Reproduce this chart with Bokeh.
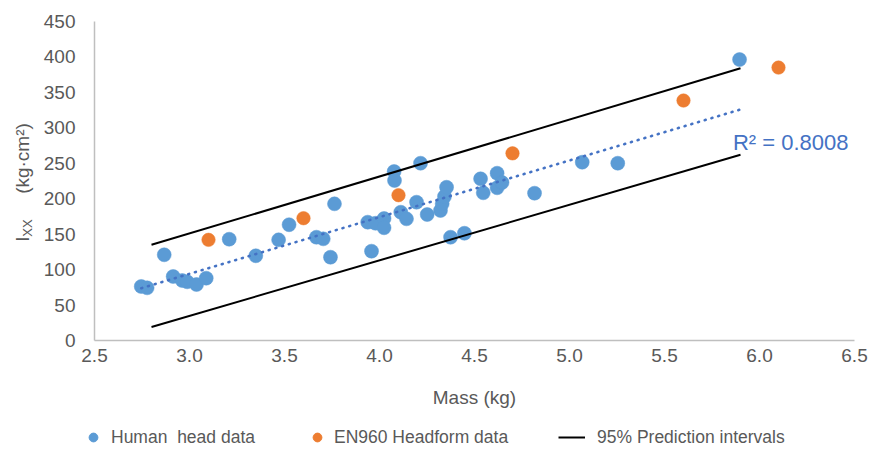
import numpy as np
from bokeh.plotting import figure
from bokeh.layouts import column, row
from bokeh.models import Range1d, FixedTicker, PrintfTickFormatter, Label, Legend, LegendItem
from bokeh.embed import file_html
from bokeh.resources import INLINE

# ---- data ----
human_mass = [2.746, 2.777, 2.867, 2.914, 2.962, 2.988, 3.037, 3.088, 3.209, 3.349,
              3.469, 3.524, 3.668, 3.704, 3.742, 3.763, 3.958, 3.938, 3.979, 4.024,
              4.024, 4.077, 4.079, 4.112, 4.142, 4.195, 4.251, 4.216, 4.321, 4.330,
              4.342, 4.353, 4.374, 4.447, 4.532, 4.546, 4.619, 4.619, 4.645, 4.816,
              5.067, 5.254, 5.895]
human_ixx = [76.2, 74.3, 120.9, 90.3, 84.6, 82.8, 79.0, 87.9, 142.9, 119.5,
             142.0, 163.3, 145.7, 143.4, 117.5, 192.8, 126.0, 166.9, 165.4, 172.1,
             159.0, 238.4, 225.7, 181.0, 171.6, 195.1, 177.7, 250.1, 183.4, 192.8,
             203.1, 216.2, 145.7, 151.3, 228.1, 208.3, 236.0, 215.4, 222.8, 207.8,
             251.5, 250.1, 396.3]
en960_mass = [3.1, 3.6, 4.1, 4.7, 5.6, 6.1]
en960_ixx = [142.0, 172.5, 205.0, 264.0, 338.5, 385.0]
pi_mass = [2.8, 5.9]
pi_upper = [135.0, 384.0]
pi_lower = [19.0, 262.0]
x_ticks = [2.5, 3.0, 3.5, 4.0, 4.5, 5.0, 5.5, 6.0, 6.5]
y_ticks = [0, 50, 100, 150, 200, 250, 300, 350, 400, 450]
r2_text = "R\u00b2 = 0.8008"
x_title = "Mass (kg)"
y_title_parts = ["I", "XX", "(kg\u00b7cm\u00b2)"]
series_names = ["Human  head data", "EN960 Headform data", "95% Prediction intervals"]

FONT = "Liberation Sans"
GREY = "#595959"
BLUE = "#5B9BD5"
ORANGE = "#ED7D31"
TREND = "#4472C4"

LEFT_W = 38      # strip holding the y-axis title
MAIN_H = 414     # height of the main chart
LEG_H = 40       # strip holding the legend
FRAME_BOTTOM = 340  # frame bottom (pixels from top); the row aligns both frames

# ---------------- main chart ----------------
p = figure(width=872 - LEFT_W, height=MAIN_H, output_backend="svg", toolbar_location=None,
           x_range=Range1d(2.5, 6.5), y_range=Range1d(0, 450),
           min_border_left=94 - LEFT_W, min_border_right=18, min_border_top=21,
           min_border_bottom=MAIN_H - FRAME_BOTTOM)
p.outline_line_color = None
p.xgrid.visible = False
p.ygrid.visible = False

for ax in (p.xaxis[0], p.yaxis[0]):
    ax.axis_line_color = "#BFBFBF"
    ax.axis_line_width = 1.5
    ax.major_tick_line_color = None
    ax.minor_tick_line_color = None
    ax.major_tick_out = 0
    ax.major_tick_in = 0
    ax.minor_tick_out = 0
    ax.minor_tick_in = 0
    ax.major_label_text_font = FONT
    ax.major_label_text_font_size = "19px"
    ax.major_label_text_color = GREY

p.xaxis.ticker = FixedTicker(ticks=x_ticks)
p.xaxis.formatter = PrintfTickFormatter(format="%.1f")
p.xaxis.major_label_standoff = 8
p.xaxis.axis_label = x_title
p.xaxis.axis_label_text_font = FONT
p.xaxis.axis_label_text_font_size = "19px"
p.xaxis.axis_label_text_font_style = "normal"
p.xaxis.axis_label_text_color = GREY
p.xaxis.axis_label_standoff = 22

p.yaxis.ticker = FixedTicker(ticks=y_ticks)
p.yaxis.major_label_standoff = 19

p.scatter(human_mass, human_ixx, size=14, fill_color=BLUE, line_color=BLUE, line_width=0.5)
p.scatter(en960_mass, en960_ixx, size=13.5, fill_color=ORANGE, line_color=ORANGE, line_width=0.5)
p.line(pi_mass, pi_upper, line_color="black", line_width=2)
p.line(pi_mass, pi_lower, line_color="black", line_width=2)

# linear trend line of the human data
slope, intercept = np.polyfit(human_mass, human_ixx, 1)
tx = np.array([min(human_mass), max(human_mass)])
p.line(tx, slope * tx + intercept, line_color=TREND, line_width=2.6,
       line_dash="1 6", line_cap="round")

p.add_layout(Label(x=5.86, y=279, text=r2_text, text_baseline="middle", text_align="left",
                   text_color=TREND, text_font=FONT, text_font_size="22px"))

# ---------------- y-axis title strip ----------------
pl = figure(width=LEFT_W, height=MAIN_H, output_backend="svg", toolbar_location=None,
            x_range=Range1d(0, LEFT_W), y_range=Range1d(0, MAIN_H),
            x_axis_location=None, y_axis_location=None,
            min_border_left=0, min_border_right=0, min_border_top=0, min_border_bottom=0)
pl.outline_line_color = None
pl.xgrid.visible = False
pl.ygrid.visible = False
ylab = dict(x_units="screen", y_units="screen", angle=np.pi / 2, text_align="center",
            text_baseline="middle", text_color=GREY, text_font=FONT)
pl.add_layout(Label(x=21.5, y=FRAME_BOTTOM - 238.5, text=y_title_parts[0],
                    text_font_size="19px", **ylab))
pl.add_layout(Label(x=27, y=FRAME_BOTTOM - 227.5, text=y_title_parts[1],
                    text_font_size="13px", **ylab))
pl.add_layout(Label(x=21.5, y=FRAME_BOTTOM - 158, text=y_title_parts[2],
                    text_font_size="19px", **ylab))

# ---------------- legend strip ----------------
pg = figure(width=872, height=LEG_H, output_backend="svg", toolbar_location=None,
            x_range=Range1d(0, 872), y_range=Range1d(0, LEG_H),
            x_axis_location=None, y_axis_location=None,
            min_border_left=0, min_border_right=0, min_border_top=0, min_border_bottom=0)
pg.outline_line_color = None
pg.xgrid.visible = False
pg.ygrid.visible = False
# legend-only renderers, placed outside the visible range
g_h = pg.scatter(x=[-1000], y=[-1000], size=14, fill_color=BLUE, line_color=BLUE)
g_e = pg.scatter(x=[-1000], y=[-1000], size=14, fill_color=ORANGE, line_color=ORANGE)
g_l = pg.line(x=[-1000, -999], y=[-1000, -1000], line_color="black", line_width=2)


def make_legend(item, x, gw, standoff):
    lg = Legend(items=[item], location=(x, 6), orientation="horizontal",
                padding=0, margin=0, border_line_color=None, background_fill_alpha=0,
                label_text_font=FONT, label_text_font_size="17.5px", label_text_color=GREY,
                glyph_width=gw, glyph_height=22, label_height=20, label_standoff=standoff)
    pg.add_layout(lg)


make_legend(LegendItem(label=series_names[0], renderers=[g_h]), 82, 22, 7)
make_legend(LegendItem(label=series_names[1], renderers=[g_e]), 306, 22, 6)
make_legend(LegendItem(label=series_names[2], renderers=[g_l]), 558, 27, 12)

layout = column(row(pl, p, spacing=0), pg, spacing=0)
open("out.html", "w").write(file_html(layout, INLINE))
